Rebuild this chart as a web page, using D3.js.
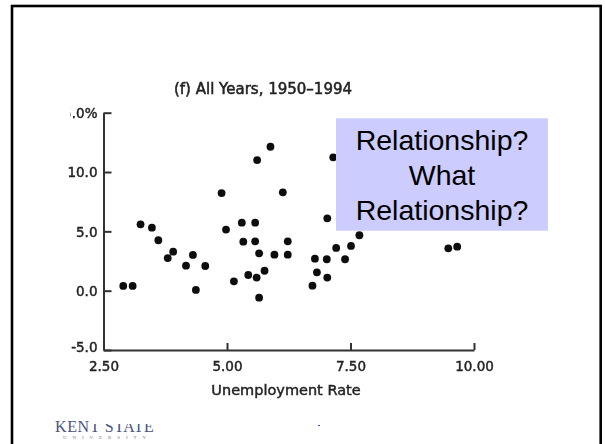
<!DOCTYPE html>
<html>
<head>
<meta charset="utf-8">
<script src="https://cdn.jsdelivr.net/npm/d3@7"></script>
<style>
	body { margin: 0; background: #fff; }
	svg { display: block; }
</style>
</head>
<body>
<div id="chart"></div>
<script>

// values (unemployment %, inflation %)
var unemployment = [2.90, 3.09, 3.25, 3.48, 3.61, 3.80, 3.91, 4.17, 4.31, 4.37,
	4.56, 4.89, 4.98, 5.14, 5.30, 5.57, 5.33, 5.57, 6.23, 5.65,
	5.96, 6.23, 5.43, 5.60, 5.76, 5.65, 5.61, 5.88, 7.15, 6.13,
	7.03, 6.78, 7.02, 6.82, 7.03, 6.73, 7.21, 7.39, 7.51, 7.68,
	9.48, 9.66];
var inflation = [0.40, 0.40, 5.59, 5.31, 4.25, 2.75, 3.29, 2.11, 3.01, 0.06,
	2.08, 8.23, 5.15, 0.79, 5.73, 5.73, 4.13, 4.16, 4.16, 3.15,
	3.03, 3.03, 1.32, 1.10, 1.68, -0.59, 11.01, 12.13, 11.24, 8.29,
	6.10, 2.70, 2.65, 1.55, 1.10, 0.42, 3.60, 2.65, 3.77, 4.67,
	3.57, 3.71];

var xTicks = [2.5, 5, 7.5, 10];
var yTicks = [-5, 0, 5, 10, 15];
var chartTitle = "(f) All Years, 1950\u20131994";
var xLabel = "Unemployment Rate";
var calloutLines = ["Relationship?", "What", "Relationship?"];

var width = 605,
	height = 444;

var svg = d3.select("#chart")
	.append("svg")
	.attr("width", width)
	.attr("height", height);

var defs = svg.append("defs");
defs.append("filter")
	.attr("id", "scan")
	.attr("x", "-5%").attr("y", "-5%")
	.attr("width", "110%").attr("height", "110%")
	.append("feGaussianBlur")
	.attr("stdDeviation", 0.75);
defs.append("clipPath")
	.attr("id", "crop")
	.append("rect")
	.attr("x", 65).attr("y", 60)
	.attr("width", 500).attr("height", 350);
defs.append("clipPath")
	.attr("id", "topcut")
	.append("rect")
	.attr("x", -33).attr("y", -20)
	.attr("width", 40).attr("height", 40);
defs.append("clipPath")
	.attr("id", "logocut")
	.append("rect")
	.attr("x", 88).attr("y", 424)
	.attr("width", 90).attr("height", 20);

// slide frame
svg.append("rect")
	.attr("x", 12)
	.attr("y", 6)
	.attr("width", 588.7)
	.attr("height", 460)
	.attr("fill", "none")
	.attr("stroke", "#000")
	.attr("stroke-width", 2.6);

var x = d3.scaleLinear().domain([2.5, 10]).range([103.5, 474]);
var y = d3.scaleLinear().domain([-5, 15]).range([350, 112.7]);

var plot = svg.append("g")
	.attr("clip-path", "url(#crop)")
	.append("g")
	.attr("filter", "url(#scan)");

plot.append("text")
	.attr("x", 263)
	.attr("y", 94)
	.attr("text-anchor", "middle")
	.attr("font-family", "DejaVu Sans")
	.attr("font-size", "15px")
	.attr("fill", "#222")
	.attr("stroke", "#222")
	.attr("stroke-width", 0.5)
	.text(chartTitle);

var yAxis = d3.axisLeft(y)
	.tickValues(yTicks)
	.tickSizeInner(-8)
	.tickSizeOuter(0)
	.tickPadding(6)
	.tickFormat(function(d) {
		var s = d3.format(".1f")(d).replace("\u2212", "-");
		return d == 15 ? s + "%" : s;
	});

var xAxis = d3.axisBottom(x)
	.tickValues(xTicks)
	.tickSizeInner(-7)
	.tickSizeOuter(0)
	.tickPadding(11)
	.tickFormat(d3.format(".2f"));

var gy = plot.append("g")
	.attr("transform", "translate(" + x(2.5) + ",0)")
	.call(yAxis);

var gx = plot.append("g")
	.attr("transform", "translate(0," + y(-5) + ")")
	.call(xAxis);

[gx, gy].forEach(function(g) {
	g.selectAll("path, line")
		.attr("stroke", "#333")
		.attr("stroke-width", 2);
	g.selectAll("text")
		.attr("font-family", "DejaVu Sans")
		.attr("font-size", "13.5px")
		.attr("fill", "#222")
		.attr("stroke", "#222")
		.attr("stroke-width", 0.45);
});
gy.selectAll(".tick text").attr("dy", "0.36em");
// the -5.0 label sits a little above the corner
gy.selectAll(".tick").filter(function(d) { return d == -5; })
	.select("text").attr("dy", "0.1em");
// slide crop cuts into the top label
gy.selectAll(".tick").filter(function(d) { return d == 15; })
	.select("text").attr("clip-path", "url(#topcut)");

plot.append("text")
	.attr("x", 286)
	.attr("y", 395)
	.attr("text-anchor", "middle")
	.attr("font-family", "DejaVu Sans")
	.attr("font-size", "14.5px")
	.attr("fill", "#222")
	.attr("stroke", "#222")
	.attr("stroke-width", 0.45)
	.text(xLabel);

plot.selectAll(".dot")
	.data(d3.range(unemployment.length))
	.enter()
	.append("circle")
	.attr("class", "dot")
	.attr("cx", function(i) { return x(unemployment[i]); })
	.attr("cy", function(i) { return y(inflation[i]); })
	.attr("r", 3.9)
	.attr("fill", "#111");

// callout box drawn over the scan
svg.append("rect")
	.attr("x", 336)
	.attr("y", 118.3)
	.attr("width", 212)
	.attr("height", 112.4)
	.attr("fill", "#ccccff");

svg.append("text")
	.attr("text-anchor", "middle")
	.attr("font-family", "Liberation Sans, Arial, sans-serif")
	.attr("font-size", "28.5px")
	.attr("fill", "#000")
	.selectAll("tspan")
	.data(calloutLines)
	.enter()
	.append("tspan")
	.attr("x", 442)
	.attr("y", function(d, i) { return 150 + i * 35; })
	.text(function(d) { return d; });

// logo, top of the letters cut off in the slide
var logo = svg.append("g")
	.attr("opacity", 0.85)
	.attr("font-family", "Liberation Serif, serif")
	.attr("fill", "#2b3468");
logo.append("text")
	.attr("x", 55)
	.attr("y", 432)
	.attr("font-size", "16px")
	.attr("letter-spacing", "0.6px")
	.text("KEN");
logo.append("text")
	.attr("clip-path", "url(#logocut)")
	.attr("x", 90)
	.attr("y", 432)
	.attr("font-size", "16px")
	.attr("letter-spacing", "0.6px")
	.text("T STATE");
logo.append("text")
	.attr("x", 63)
	.attr("y", 438.5)
	.attr("font-size", "5px")
	.attr("letter-spacing", "5.9px")
	.attr("fill", "#667")
	.text("UNIVERSITY");

svg.append("rect")
	.attr("x", 318)
	.attr("y", 425)
	.attr("width", 2)
	.attr("height", 1)
	.attr("fill", "#3355cc");

</script>
</body>
</html>
